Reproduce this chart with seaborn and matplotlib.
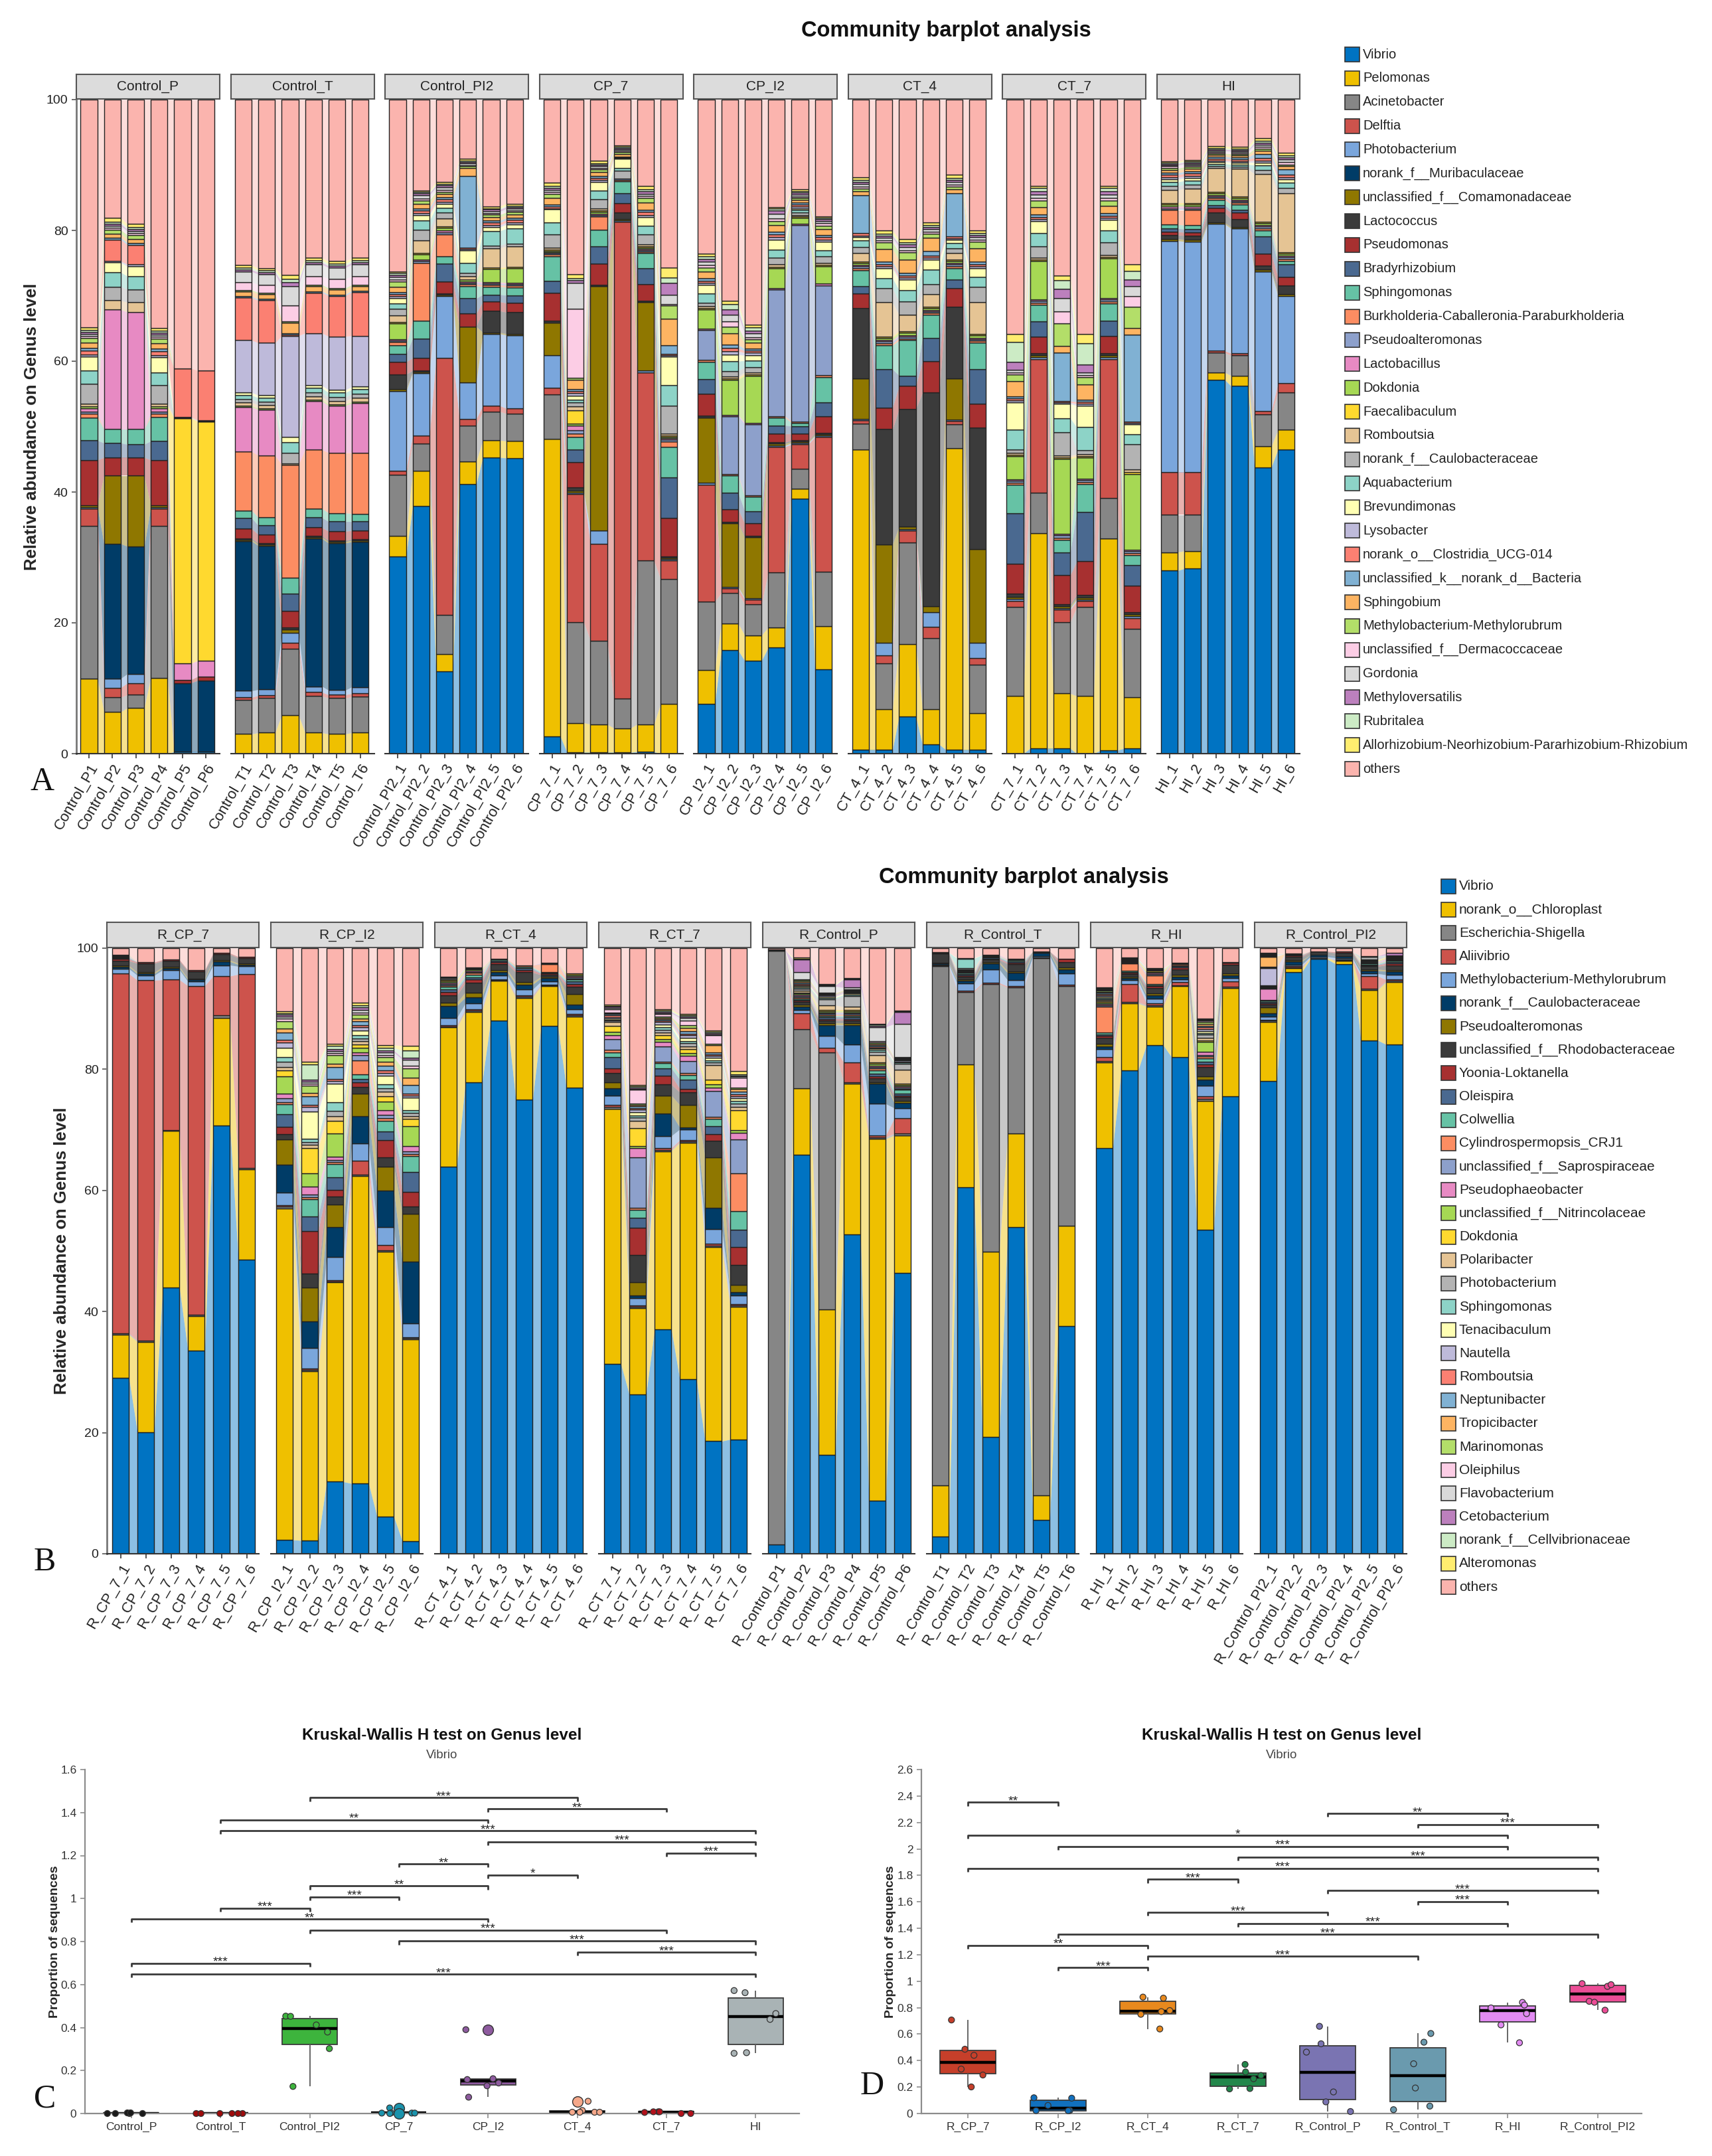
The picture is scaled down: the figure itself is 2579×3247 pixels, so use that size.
import numpy as np
import pandas as pd
import matplotlib
matplotlib.use("Agg")
import matplotlib.pyplot as plt
from matplotlib.patches import Rectangle
from matplotlib.transforms import offset_copy
import seaborn as sns

sns.set_theme(style="white")
plt.rcParams["font.family"] = ["Liberation Sans", "DejaVu Sans"]
np.random.seed(11)

W, H = 2579, 3247
DPI = 100

taxa_A = ["Vibrio", "Pelomonas", "Acinetobacter", "Delftia", "Photobacterium",
          "norank_f__Muribaculaceae", "unclassified_f__Comamonadaceae", "Lactococcus",
          "Pseudomonas", "Bradyrhizobium", "Sphingomonas",
          "Burkholderia-Caballeronia-Paraburkholderia", "Pseudoalteromonas", "Lactobacillus",
          "Dokdonia", "Faecalibaculum", "Romboutsia", "norank_f__Caulobacteraceae",
          "Aquabacterium", "Brevundimonas", "Lysobacter", "norank_o__Clostridia_UCG-014",
          "unclassified_k__norank_d__Bacteria", "Sphingobium", "Methylobacterium-Methylorubrum",
          "unclassified_f__Dermacoccaceae", "Gordonia", "Methyloversatilis", "Rubritalea",
          "Allorhizobium-Neorhizobium-Pararhizobium-Rhizobium", "others"]

taxa_B = ["Vibrio", "norank_o__Chloroplast", "Escherichia-Shigella", "Aliivibrio",
          "Methylobacterium-Methylorubrum", "norank_f__Caulobacteraceae", "Pseudoalteromonas",
          "unclassified_f__Rhodobacteraceae", "Yoonia-Loktanella", "Oleispira", "Colwellia",
          "Cylindrospermopsis_CRJ1", "unclassified_f__Saprospiraceae", "Pseudophaeobacter",
          "unclassified_f__Nitrincolaceae", "Dokdonia", "Polaribacter", "Photobacterium",
          "Sphingomonas", "Tenacibaculum", "Nautella", "Romboutsia", "Neptunibacter",
          "Tropicibacter", "Marinomonas", "Oleiphilus", "Flavobacterium", "Cetobacterium",
          "norank_f__Cellvibrionaceae", "Alteromonas", "others"]

groups_A = ["Control_P", "Control_T", "Control_PI2", "CP_7", "CP_I2", "CT_4", "CT_7", "HI"]
groups_B = ["R_CP_7", "R_CP_I2", "R_CT_4", "R_CT_7", "R_Control_P", "R_Control_T", "R_HI", "R_Control_PI2"]

labels_A = [
    ["Control_P1", "Control_P2", "Control_P3", "Control_P4", "Control_P5", "Control_P6"],
    ["Control_T1", "Control_T2", "Control_T3", "Control_T4", "Control_T5", "Control_T6"],
    ["Control_PI2_1", "Control_PI2_2", "Control_PI2_3", "Control_PI2_4", "Control_PI2_5", "Control_PI2_6"],
    ["CP_7_1", "CP_7_2", "CP_7_3", "CP_7_4", "CP_7_5", "CP_7_6"],
    ["CP_I2_1", "CP_I2_2", "CP_I2_3", "CP_I2_4", "CP_I2_5", "CP_I2_6"],
    ["CT_4_1", "CT_4_2", "CT_4_3", "CT_4_4", "CT_4_5", "CT_4_6"],
    ["CT_7_1", "CT_7_2", "CT_7_3", "CT_7_4", "CT_7_5", "CT_7_6"],
    ["HI_1", "HI_2", "HI_3", "HI_4", "HI_5", "HI_6"],
]
labels_B = [
    ["R_CP_7_1", "R_CP_7_2", "R_CP_7_3", "R_CP_7_4", "R_CP_7_5", "R_CP_7_6"],
    ["R_CP_I2_1", "R_CP_I2_2", "R_CP_I2_3", "R_CP_I2_4", "R_CP_I2_5", "R_CP_I2_6"],
    ["R_CT_4_1", "R_CT_4_2", "R_CT_4_3", "R_CT_4_4", "R_CT_4_5", "R_CT_4_6"],
    ["R_CT_7_1", "R_CT_7_2", "R_CT_7_3", "R_CT_7_4", "R_CT_7_5", "R_CT_7_6"],
    ["R_Control_P1", "R_Control_P2", "R_Control_P3", "R_Control_P4", "R_Control_P5", "R_Control_P6"],
    ["R_Control_T1", "R_Control_T2", "R_Control_T3", "R_Control_T4", "R_Control_T5", "R_Control_T6"],
    ["R_HI_1", "R_HI_2", "R_HI_3", "R_HI_4", "R_HI_5", "R_HI_6"],
    ["R_Control_PI2_1", "R_Control_PI2_2", "R_Control_PI2_3", "R_Control_PI2_4", "R_Control_PI2_5", "R_Control_PI2_6"],
]

# relative abundance (%), one row per sample, columns in legend order (others = rest)
A_Control_P = [
    [0, 11.5, 23.3, 2.7, 0.2, 0, 0.3, 0, 6.9, 3.0, 3.5, 0.6, 0.3, 0.5, 0.3, 0, 0.4, 3.0, 2.1, 2.1, 0.3, 0.6, 0.4, 0.8, 0.8, 0.3, 0.3, 0.3, 0.3, 0.4],
    [0, 6.4, 2.2, 1.5, 1.4, 20.6, 10.4, 0, 2.8, 2.2, 2.1, 0, 0, 18.3, 0, 0, 1.4, 2.1, 2.2, 1.5, 0.2, 3.3, 0.3, 0.6, 0.6, 0.3, 0.3, 0.3, 0.3, 0.6],
    [0, 7.0, 2.0, 1.8, 1.4, 19.5, 10.8, 0, 2.8, 2.0, 2.3, 0, 0, 17.9, 0, 0, 1.5, 2.0, 2.0, 1.5, 0.3, 3.0, 0.3, 0.6, 0.6, 0.3, 0.3, 0.3, 0.3, 0.5],
    [0, 11.6, 23.2, 2.7, 0.2, 0, 0.3, 0, 6.9, 2.9, 3.7, 0.5, 0.3, 0.5, 0.3, 0, 0.4, 2.8, 2.0, 2.3, 0.3, 0.6, 0.4, 0.8, 0.8, 0.3, 0.3, 0.3, 0.3, 0.4],
    [0.3, 0, 0, 0, 0, 10.5, 0, 0, 0.5, 0, 0, 0, 0, 2.5, 0, 37.5, 0.1, 0.1, 0, 0, 0, 7.4, 0, 0, 0, 0, 0, 0, 0, 0],
    [0.3, 0, 0, 0, 0, 10.9, 0, 0, 0.6, 0, 0, 0, 0, 2.4, 0, 36.6, 0.1, 0.1, 0, 0, 0, 7.6, 0, 0, 0, 0, 0, 0, 0, 0],
]
A_Control_T = [
    [0, 3.0, 5.2, 0.4, 1.0, 22.9, 0.2, 0.2, 1.5, 1.6, 1.2, 9.0, 0, 6.8, 0.2, 0, 0.5, 0.5, 0.6, 0.4, 8.0, 6.5, 0.2, 0.8, 0.2, 1.2, 1.6, 0.3, 0.3, 0.4],
    [0, 3.2, 5.3, 0.4, 0.9, 22.0, 0.2, 0.2, 1.3, 1.4, 1.2, 9.5, 0, 7.0, 0.2, 0, 0.5, 0.5, 0.6, 0.4, 8.0, 6.5, 0.2, 0.8, 0.2, 1.2, 1.6, 0.3, 0.3, 0.3],
    [0, 5.9, 10.1, 1.0, 1.5, 0, 0.5, 0.3, 2.5, 2.7, 2.4, 17.3, 0, 0, 0, 0, 0.2, 1.6, 1.6, 0.8, 15.5, 0.2, 0.2, 1.6, 0.2, 2.4, 3.0, 0.6, 0.5, 0.6],
    [0, 3.2, 5.6, 0.6, 0.9, 22.6, 0.2, 0.2, 1.3, 1.5, 1.4, 9.0, 0, 7.4, 0.2, 0, 0.5, 0.6, 0.7, 0.4, 8.0, 6.2, 0.2, 0.8, 0.2, 1.3, 1.8, 0.3, 0.3, 0.4],
    [0, 3.0, 5.5, 0.5, 0.7, 22.5, 0.2, 0.2, 1.4, 1.5, 1.3, 9.2, 0, 7.2, 0.2, 0, 0.5, 0.6, 0.7, 0.4, 8.2, 6.2, 0.2, 0.8, 0.2, 1.4, 1.7, 0.3, 0.3, 0.4],
    [0, 3.2, 5.5, 0.5, 1.0, 22.2, 0.2, 0.2, 1.3, 1.4, 1.2, 9.3, 0, 7.6, 0.2, 0, 0.6, 0.6, 0.7, 0.4, 7.8, 6.7, 0.2, 0.7, 0.2, 1.3, 1.8, 0.3, 0.3, 0.4],
]
A_Control_PI2 = [
    [30.2, 3.1, 9.3, 0.6, 12.2, 0, 0.3, 2.3, 1.9, 1.2, 1.3, 0.5, 0.2, 0.2, 2.5, 0.2, 1.0, 1.0, 0.8, 0.8, 0.3, 0.4, 0.3, 0.8, 0.8, 0.3, 0.4, 0.3, 0.3, 0.2],
    [37.9, 5.3, 4.2, 1.2, 9.6, 0, 0.2, 0.2, 1.9, 3.0, 2.7, 8.8, 0.3, 0.2, 0.8, 0.2, 2.0, 1.6, 1.4, 0.8, 0.3, 0.4, 0.4, 0.7, 0.5, 0.3, 0.5, 0.3, 0.2, 0.2],
    [12.6, 2.6, 6.0, 39.3, 9.5, 0, 0.2, 0.2, 1.8, 2.7, 1.1, 3.4, 0.3, 0.3, 0.4, 0.2, 1.2, 0.9, 0.8, 0.6, 0.3, 0.4, 0.3, 0.5, 0.3, 0.3, 0.4, 0.3, 0.2, 0.3],
    [41.2, 3.5, 5.5, 1.0, 5.6, 0, 8.5, 0, 2.0, 2.3, 1.9, 0.3, 0.2, 0.2, 0.3, 0, 0.5, 0.5, 1.5, 2.0, 0.2, 0.2, 10.9, 1.2, 0.3, 0.2, 0.3, 0.2, 0.2, 0.3],
    [45.3, 2.6, 4.4, 0.9, 11.0, 0, 0.2, 3.3, 1.4, 1.1, 1.2, 0.3, 0.2, 0.2, 2.0, 0.2, 3.0, 0.4, 2.2, 0.6, 0.3, 0.4, 0.3, 0.5, 0.4, 0.2, 0.3, 0.3, 0.2, 0.3],
    [45.2, 2.6, 4.2, 0.8, 11.2, 0, 0.2, 3.3, 1.4, 1.2, 1.2, 0.3, 0.2, 0.2, 2.2, 0.2, 3.2, 0.4, 2.3, 0.6, 0.3, 0.4, 0.3, 0.5, 0.4, 0.2, 0.3, 0.3, 0.2, 0.3],
]
A_CP_7 = [
    [2.6, 45.5, 6.8, 1.0, 5.0, 0, 5.0, 0.3, 4.3, 1.8, 3.7, 0.3, 0.2, 0.2, 0.2, 0.2, 0.3, 2.0, 1.8, 2.0, 0.2, 0.3, 0.3, 1.0, 0.6, 0.3, 0.3, 0.3, 0.3, 0.5],
    [0.2, 4.5, 15.4, 19.6, 0.2, 0, 0.3, 0.5, 3.9, 1.9, 1.9, 0.5, 0.5, 0.8, 0.3, 2.0, 0.6, 0.6, 0.4, 0.6, 0.4, 0.3, 0.3, 1.5, 0.3, 10.5, 4.0, 0.4, 0.3, 0.6],
    [0.2, 4.3, 12.8, 14.8, 2.0, 0, 37.4, 0.2, 3.2, 2.7, 2.5, 2.0, 0.2, 0.2, 0.3, 0.2, 0.3, 1.5, 1.3, 1.3, 0.3, 0.3, 0.3, 0.6, 0.4, 0.2, 0.3, 0.3, 0.2, 0.4],
    [0.2, 3.7, 4.5, 72.9, 0.2, 0, 0.2, 1.0, 1.5, 1.5, 1.8, 0.2, 0.2, 0, 0, 0, 0, 1.2, 0.4, 1.5, 0.1, 0.1, 0.1, 0.4, 0.3, 0.2, 0.2, 0.2, 0.2, 0.2],
    [0.3, 4.2, 25.0, 28.8, 0.3, 0, 10.4, 0.2, 2.6, 2.4, 2.3, 0.3, 0.2, 0.2, 0.2, 0.2, 0.3, 1.5, 1.3, 1.3, 0.3, 0.5, 0.3, 1.2, 0.7, 0.3, 0.3, 0.4, 0.3, 0.5],
    [0, 7.6, 19.1, 2.8, 0.2, 0, 0.2, 0.3, 5.8, 6.2, 4.7, 0.8, 0.3, 0.2, 0.2, 0.2, 0.3, 4.3, 3.1, 4.4, 0.2, 0.2, 1.3, 4.1, 2.0, 0.2, 1.5, 1.8, 0.8, 1.5],
]
A_CP_I2 = [
    [7.6, 5.2, 10.4, 17.9, 0.3, 0, 10.0, 0.3, 3.3, 2.3, 2.6, 0.3, 4.6, 0.2, 2.9, 0.2, 0.3, 0.5, 1.5, 1.3, 0.3, 0.3, 0.4, 1.0, 0.6, 0.4, 0.5, 0.4, 0.4, 0.4],
    [15.8, 4.1, 4.7, 0.7, 0.2, 0, 9.7, 0.2, 2.0, 2.5, 2.6, 0.2, 8.9, 0.2, 5.4, 0.2, 0.3, 0.8, 1.5, 1.0, 0.5, 0.5, 0.5, 1.8, 1.0, 0.8, 1.0, 0.8, 0.8, 0.5],
    [14.2, 3.9, 4.7, 0.8, 0.2, 0, 9.3, 0.2, 1.9, 1.9, 2.2, 0.2, 10.9, 0.2, 7.2, 0.2, 0.3, 0.8, 1.0, 0.8, 0.4, 0.3, 0.3, 0.9, 0.5, 0.4, 0.6, 0.4, 0.5, 0.4],
    [16.2, 3.1, 8.4, 19.2, 0.2, 0, 0.3, 0.2, 1.3, 1.3, 1.2, 0.2, 19.4, 0.2, 3.0, 0.2, 0.4, 1.0, 1.3, 1.5, 0.4, 0.4, 0.4, 1.0, 0.6, 0.4, 0.7, 0.5, 0.3, 0.3],
    [39.0, 1.5, 3.1, 3.7, 0.2, 0, 0.2, 0.2, 1.0, 1.2, 0.5, 0.2, 30.0, 0.2, 0.9, 0.2, 0.2, 0.4, 0.4, 0.3, 0.3, 0.3, 0.3, 0.4, 0.3, 0.2, 0.3, 0.3, 0.2, 0.3],
    [12.9, 6.6, 8.3, 20.6, 0.2, 0, 0.2, 0.2, 2.6, 2.1, 3.9, 0.3, 13.7, 0.3, 2.6, 0.2, 0.3, 1.0, 1.0, 1.3, 0.3, 0.4, 0.3, 0.9, 0.5, 0.4, 0.3, 0.3, 0.2, 0.2],
]
A_CT_4 = [
    [0.6, 45.9, 4.0, 0.5, 0.2, 0, 6.2, 10.7, 2.3, 1.1, 2.4, 0.3, 0.3, 0.2, 0.3, 0.2, 1.3, 1.0, 1.0, 0.5, 0.2, 0.4, 5.8, 0.6, 0.4, 0.3, 0.4, 0.3, 0.3, 0.4],
    [0.6, 6.2, 7.0, 1.2, 2.0, 0, 15.0, 17.6, 3.3, 5.9, 3.6, 0.3, 0.3, 0.2, 0.4, 0.2, 5.2, 2.2, 1.5, 1.5, 0.3, 0.3, 0.4, 2.0, 1.0, 0.3, 0.4, 0.3, 0.3, 0.5],
    [5.7, 11.1, 15.5, 1.8, 0.2, 0, 0.4, 18.0, 3.5, 1.6, 5.4, 0.3, 0.3, 0.2, 0.4, 0.2, 2.5, 2.0, 1.8, 1.6, 0.3, 0.3, 0.4, 2.0, 1.2, 0.3, 0.5, 0.4, 0.3, 0.5],
    [1.4, 5.4, 10.9, 1.7, 2.2, 0, 0.9, 32.7, 4.8, 3.6, 3.5, 0.3, 0.2, 0.2, 0.3, 0.2, 2.0, 1.5, 2.2, 1.5, 0.3, 0.3, 0.8, 2.0, 0.6, 0.3, 0.4, 0.3, 0.3, 0.4],
    [0.6, 46.1, 3.7, 0.5, 0.2, 0, 6.3, 10.9, 2.9, 1.3, 1.7, 0.3, 0.3, 0.2, 0.3, 0.2, 1.0, 0.8, 0.8, 0.5, 0.2, 0.3, 6.6, 0.6, 0.4, 0.3, 0.4, 0.3, 0.3, 0.5],
    [0.6, 5.6, 7.4, 1.0, 2.4, 0, 14.3, 18.5, 3.7, 5.3, 4.0, 0.3, 0.3, 0.2, 0.4, 0.2, 4.8, 2.4, 1.5, 1.3, 0.3, 0.3, 0.4, 2.1, 1.0, 0.3, 0.4, 0.3, 0.3, 0.4],
]
A_CT_7 = [
    [0, 8.8, 13.6, 1.0, 0.3, 0, 0.3, 0.5, 4.5, 7.8, 4.3, 0.3, 0.3, 0.2, 3.6, 0.2, 0.3, 0.5, 3.0, 4.2, 0.3, 0.3, 0.3, 2.4, 1.0, 0.3, 0.4, 1.2, 3.0, 1.3],
    [0.8, 32.9, 6.2, 20.4, 0.3, 0, 0.3, 0.3, 2.6, 2.3, 2.5, 0.3, 0.3, 0.2, 5.9, 0.2, 0.3, 1.8, 2.0, 1.8, 0.3, 0.3, 0.4, 1.2, 1.0, 0.4, 0.5, 0.5, 0.5, 0.3],
    [0.8, 8.4, 10.9, 1.9, 0.2, 0, 0.3, 0.3, 4.5, 3.5, 1.9, 0.3, 0.4, 0.2, 11.5, 0.2, 0.3, 3.5, 2.2, 2.2, 0.2, 0.2, 7.4, 1.0, 3.5, 1.8, 2.0, 1.5, 1.3, 0.7],
    [0, 8.8, 13.6, 0.9, 0.3, 0, 0.3, 0.4, 5.1, 7.6, 4.2, 0.3, 0.3, 0.2, 3.3, 0.2, 0.3, 0.6, 3.5, 3.3, 0.3, 0.3, 0.3, 2.3, 1.2, 0.3, 0.4, 1.2, 3.2, 1.5],
    [0.5, 32.4, 6.2, 21.2, 0.3, 0, 0.3, 0.3, 2.7, 2.3, 2.6, 0.3, 0.3, 0.2, 6.1, 0.2, 0.3, 2.0, 1.8, 1.6, 0.3, 0.3, 0.4, 1.2, 0.8, 0.4, 0.5, 0.5, 0.5, 0.3],
    [0.8, 7.8, 10.5, 1.6, 0.3, 0, 0.3, 0.3, 4.1, 3.1, 1.6, 0.3, 0.3, 0.2, 11.5, 0.3, 0.5, 3.8, 1.5, 1.6, 0.2, 0.2, 13.3, 1.0, 3.2, 1.6, 1.6, 1.0, 1.3, 1.0],
]
A_HI = [
    [28.0, 2.8, 5.7, 6.5, 35.4, 0, 0.3, 0.6, 0.5, 0.5, 0.6, 2.2, 0.3, 0.3, 0.3, 0.2, 2.0, 0.6, 0.6, 0.4, 0.3, 0.4, 0.3, 0.4, 0.3, 0.3, 0.2, 0.2, 0.2, 0.2],
    [28.3, 2.7, 5.5, 6.5, 35.3, 0, 0.3, 0.6, 0.5, 0.5, 0.6, 2.3, 0.3, 0.3, 0.3, 0.2, 2.2, 0.6, 0.6, 0.4, 0.3, 0.4, 0.3, 0.4, 0.3, 0.3, 0.2, 0.2, 0.2, 0.2],
    [57.2, 1.1, 3.0, 0.3, 19.4, 0, 0.2, 1.5, 0.8, 0.4, 0.8, 0.3, 0.2, 0.2, 0.3, 0.2, 3.6, 0.3, 0.4, 0.3, 0.2, 0.3, 0.3, 0.3, 0.2, 0.2, 0.2, 0.2, 0.2, 0.3],
    [56.2, 1.6, 3.1, 0.3, 19.1, 0, 0.2, 1.2, 1.0, 0.4, 0.9, 0.3, 0.2, 0.2, 0.3, 0.2, 4.2, 0.3, 0.4, 0.3, 0.2, 0.3, 0.3, 0.3, 0.2, 0.2, 0.2, 0.2, 0.2, 0.3],
    [43.8, 3.2, 4.9, 0.5, 21.3, 0, 0.3, 0.6, 1.8, 2.7, 0.9, 0.3, 0.3, 0.2, 0.3, 0.2, 7.3, 0.6, 0.8, 0.4, 0.3, 0.4, 0.6, 0.5, 0.3, 0.3, 0.3, 0.3, 0.3, 0.4],
    [46.5, 3.0, 5.7, 1.4, 13.4, 0, 0.3, 1.3, 1.3, 1.9, 0.5, 0.3, 0.3, 0.2, 0.3, 0.2, 9.1, 0.8, 0.8, 0.5, 0.3, 0.4, 0.8, 0.5, 0.3, 0.4, 0.4, 0.3, 0.3, 0.4],
]

# panel B rows list the leading taxa; taxa not listed are absent
B_R_CP_7 = [
    [29.1, 7.1, 0.2, 59.4, 0.8, 0.3, 0.2, 0.8, 0.3, 0.2, 0.1, 0.1, 0.1, 0.1, 0.1],
    [20.1, 14.9, 0.2, 59.5, 0.8, 0.3, 0.2, 1.5, 0.2],
    [44.0, 25.8, 0.2, 24.8, 1.6, 0.3, 0.2, 1.0, 0.2],
    [33.6, 5.7, 0.2, 54.3, 0.7, 0.3, 0.2, 1.2, 0.2],
    [70.7, 17.8, 0.4, 6.5, 1.8, 0.6, 0.2, 1.0, 0.2],
    [48.6, 14.9, 0.2, 32.0, 1.3, 0.3, 0.2, 0.9, 0.2],
]
B_R_CP_I2 = [
    [2.3, 54.7, 0.3, 0.3, 2.1, 4.5, 4.2, 0.9, 1.2, 2.1, 1.6, 0.4, 0.6, 0.8, 2.8, 1.0, 0.6, 0.8, 0.8, 1.6, 0.8, 0.5, 1.2, 0.6, 1.2, 0.5, 0.3, 0.3, 0.3, 0.3],
    [2.2, 28.0, 0.2, 0.2, 3.4, 4.4, 5.6, 2.3, 7.0, 2.4, 2.9, 0.3, 0.4, 1.3, 2.2, 4.2, 0.5, 0.5, 0.5, 4.5, 0.8, 0.3, 1.5, 0.5, 1.2, 0.3, 0.4, 0.3, 2.5, 0.4],
    [11.9, 32.9, 0.2, 0.2, 3.8, 5.0, 3.7, 1.3, 1.1, 2.1, 2.2, 0.3, 0.3, 0.6, 3.8, 2.1, 0.8, 0.8, 1.5, 3.0, 0.5, 0.3, 2.0, 0.5, 1.5, 0.3, 0.3, 0.3, 0.6, 0.3],
    [11.6, 50.8, 0.2, 2.3, 2.9, 4.5, 3.7, 1.1, 0.8, 0.5, 0.8, 2.3, 0.8, 0.5, 0.8, 0.5, 0.5, 0.5, 0.5, 0.8, 0.5, 0.4, 0.6, 0.5, 0.6, 0.4, 0.4, 0.4, 0.4, 0.4],
    [6.1, 43.8, 0.2, 0.9, 3.0, 6.0, 3.9, 1.6, 2.8, 1.4, 1.8, 0.4, 0.6, 0.8, 1.4, 0.8, 0.8, 0.6, 0.6, 1.4, 0.5, 0.4, 0.8, 0.6, 0.8, 0.4, 0.4, 0.3, 0.5, 0.4],
    [2.1, 33.3, 0.2, 0.2, 2.2, 10.2, 7.9, 1.2, 2.5, 3.3, 2.6, 0.3, 0.4, 0.9, 3.3, 1.2, 0.5, 0.5, 0.5, 2.0, 0.4, 0.3, 1.4, 1.2, 1.6, 0.4, 1.0, 0.3, 1.2, 0.8],
]
B_R_CT_4 = [
    [63.9, 23.0, 0.2, 0.2, 1.2, 2.0, 0.5, 1.2, 0.6, 0.4, 0.4, 0.3, 0.2, 0.2, 0.2, 0.2, 0.2, 0.2, 0.1, 0.1],
    [77.8, 11.7, 0.2, 0.2, 1.0, 1.0, 0.8, 1.6, 0.5, 0.4, 0.4, 0.3, 0.2, 0.2, 0.2, 0.1, 0.1, 0.1],
    [88.0, 6.6, 0.1, 0.1, 0.7, 0.6, 0.3, 1.0, 0.3, 0.2, 0.2, 0.1],
    [75.0, 16.8, 0.2, 0.2, 1.0, 0.8, 0.4, 1.6, 0.4, 0.3, 0.2, 0.3],
    [87.2, 6.6, 0.1, 0.1, 0.5, 0.6, 0.2, 0.3, 0.2, 0.1, 0.2, 1.3, 0.1, 0.1],
    [77.0, 11.7, 0.2, 0.2, 0.8, 0.8, 1.7, 1.2, 0.5, 0.4, 0.3, 0.2, 0.2, 0.2, 0.2, 0.2],
]
B_R_CT_7 = [
    [31.4, 42.1, 0.3, 0.3, 1.6, 1.2, 0.9, 1.6, 0.8, 1.8, 0.8, 0.4, 1.8, 0.6, 0.6, 1.0, 0.6, 0.2, 0.2, 0.2, 0.2, 0.3, 0.2, 0.2, 0.1, 0.5, 0.2, 0.2, 0.2, 0.2],
    [26.3, 14.3, 0.2, 0.2, 1.2, 0.4, 2.3, 4.4, 4.5, 1.7, 1.3, 0.3, 8.4, 1.5, 0.3, 3.0, 1.2, 0.5, 0.4, 0.5, 0.5, 0.2, 0.3, 0.2, 0.2, 2.3, 0.2, 0.2, 0.2, 0.2],
    [37.1, 29.4, 0.2, 0.3, 2.0, 3.7, 3.0, 1.8, 1.5, 1.2, 0.8, 0.3, 2.5, 0.7, 0.5, 0.6, 0.5, 0.4, 0.4, 0.5, 0.4, 0.2, 0.3, 0.2, 0.2, 0.4, 0.2, 0.2, 0.2, 0.2],
    [28.8, 39.1, 0.2, 0.2, 1.8, 0.3, 3.7, 2.1, 0.6, 1.5, 0.8, 0.3, 2.0, 0.8, 0.5, 0.6, 0.5, 0.5, 0.4, 0.5, 0.4, 0.3, 0.4, 0.5, 0.5, 0.8, 0.4, 0.2, 0.2, 0.2],
    [18.6, 32.1, 0.2, 0.3, 2.4, 3.5, 8.4, 2.7, 1.1, 1.3, 1.2, 0.3, 4.3, 0.6, 0.5, 0.8, 2.4, 0.4, 0.4, 0.4, 0.3, 0.3, 0.3, 1.2, 0.2, 1.4, 0.2, 0.2, 0.2, 0.2],
    [18.9, 21.9, 0.2, 0.2, 1.5, 0.5, 1.2, 3.3, 3.0, 2.8, 3.1, 6.2, 5.6, 1.1, 0.5, 3.2, 0.6, 0.5, 0.5, 0.4, 0.4, 0.3, 0.4, 0.4, 0.3, 1.6, 0.2, 0.2, 0.2, 0.5],
]
B_R_Control_P = [
    [1.5, 0, 98.1, 0, 0.1, 0.1],
    [65.9, 11.0, 9.7, 2.7, 0.5, 0.6, 0.3, 0.4, 0.2, 0.2, 0.2, 0.2, 0.2, 0.2, 0.2, 0.2, 0.3, 0.3, 0.2, 0.2, 0.2, 0.2, 0.2, 0.2, 0.2, 0.2, 1.2, 2.0, 0.2, 0.2],
    [16.3, 24.0, 42.5, 0.7, 2.0, 1.8, 0.3, 0.5, 0.2, 0.3, 0.2, 0.2, 0.2, 0.2, 0.2, 0.2, 0.8, 1.0, 0.2, 0.2, 0.2, 0.1, 0.1, 0.1, 0.1, 0.1, 1.0, 0.2, 0.1, 0.1],
    [52.7, 24.9, 0.3, 3.2, 3.0, 3.2, 0.3, 0.5, 0.2, 0.3, 0.2, 0.2, 0.2, 0.2, 0.2, 0.2, 0.5, 1.8, 0.2, 0.2, 0.2, 0.1, 0.1, 0.1, 0.1, 0.1, 0.3, 1.4, 0.1, 0.1],
    [8.8, 59.7, 0.3, 0.3, 5.2, 3.3, 0.3, 0.6, 0.3, 0.5, 0.5, 0.3, 0.3, 0.2, 0.3, 0.2, 1.3, 0.5, 0.3, 0.2, 0.2, 0.2, 0.2, 0.2, 0.2, 0.2, 2.4, 0.2, 0.2, 0.1],
    [46.4, 22.7, 0.3, 2.5, 1.7, 0.8, 0.4, 0.6, 0.3, 0.3, 0.6, 0.2, 0.2, 0.2, 0.2, 0.2, 2.3, 1.0, 0.2, 0.2, 0.2, 0.1, 0.1, 0.1, 0.1, 0.1, 5.5, 2.0, 0.1, 0.1],
]
B_R_Control_T = [
    [2.9, 8.4, 85.7, 0.1, 0.2, 0.2, 0.1, 1.5, 0.1, 0.1],
    [60.5, 20.3, 12.0, 0.2, 1.2, 0.4, 0.2, 0.5, 0.2, 0.2, 0.2, 0.1, 0.1, 0.1, 0.1, 0.1, 0.1, 0.2, 1.6, 0.1],
    [19.3, 30.6, 44.2, 0.2, 2.2, 1.0, 0.2, 0.4, 0.2, 0.2, 0.1, 0.1, 0.1, 0.1],
    [53.9, 15.5, 24.1, 0.2, 1.0, 1.2, 0.3, 1.2, 0.2, 0.2, 0.2, 0.1, 0.1],
    [5.6, 4.1, 88.7, 0.1, 0.2, 0.5, 0.1, 0.2],
    [37.6, 16.6, 39.6, 0.2, 1.8, 0.7, 0.3, 0.9, 0.5, 0.1],
]
B_R_HI = [
    [67.0, 14.1, 0.3, 0.6, 1.3, 0.5, 0.4, 1.0, 0.3, 0.3, 0.3, 4.3, 0.2, 0.2, 0.2, 0.2, 0.2, 0.2, 0.2, 0.2, 0.2, 0.2, 0.2, 0.2, 0.2, 0.1, 0.1, 0.1, 0.1, 0.1],
    [79.8, 11.1, 0.2, 3.0, 0.6, 0.4, 0.2, 0.4, 0.2, 0.2, 0.2, 1.2, 0.1, 0.1, 0.1, 0.1, 0.1, 0.1, 0.1, 0.1, 0.1, 0.1],
    [84.0, 6.4, 0.2, 0.3, 0.8, 0.5, 0.3, 0.9, 0.3, 0.2, 0.2, 1.4, 0.2, 0.2, 0.2, 0.2, 0.1, 0.1, 0.1, 0.1],
    [82.0, 11.7, 0.2, 0.5, 0.4, 0.5, 0.3, 0.9, 0.3, 0.2, 0.2, 0.2, 0.1, 0.1],
    [53.5, 21.3, 0.3, 0.4, 1.8, 1.0, 0.5, 1.6, 0.4, 0.5, 0.5, 0.3, 0.3, 0.5, 1.6, 0.3, 0.4, 0.5, 0.3, 0.3, 0.3, 0.3, 0.3, 0.3, 0.3, 0.2, 0.1, 0.1, 0.1, 0.1],
    [75.5, 17.9, 0.2, 0.9, 0.6, 0.4, 0.3, 1.5, 0.3, 0.1],
]
B_R_Control_PI2 = [
    [78.1, 9.7, 0.2, 0.2, 0.5, 0.5, 1.0, 0.5, 0.2, 0.2, 0.2, 0.1, 0.1, 1.8, 0.1, 0.1, 0.1, 0.1, 0.1, 0.1, 2.8, 0.1, 0.1, 1.7, 0.1, 0.1, 0.1, 0.1, 0.1, 0.1],
    [96.1, 0.6, 0.1, 0.2, 0.3, 0.5, 0.2, 0.6, 0.2, 0.1, 0.1, 0.1],
    [98.2, 0.2, 0, 0, 0.2, 0.3, 0, 0.5, 0.1],
    [97.4, 0.5, 0.1, 0.1, 0.3, 0.3, 0, 0.5, 0.2],
    [84.8, 8.3, 0.2, 2.1, 0.4, 0.5, 0.2, 0.5, 0.2, 0.1, 0.2, 0.1, 0.1, 0.1, 0.1, 0.1, 0.1, 0.5, 0.1],
    [84.1, 10.3, 0.2, 0.2, 0.8, 0.6, 0.2, 0.8, 0.3, 0.2, 0.2, 0.1, 0.1, 0.2, 0.1, 0.1, 0.1, 0.1, 0.1, 0, 0, 0, 0, 0, 0, 0, 0, 0.4],
]

tables_A = [A_Control_P, A_Control_T, A_Control_PI2, A_CP_7, A_CP_I2, A_CT_4, A_CT_7, A_HI]
tables_B = [B_R_CP_7, B_R_CP_I2, B_R_CT_4, B_R_CT_7, B_R_Control_P, B_R_Control_T, B_R_HI, B_R_Control_PI2]

# Kruskal-Wallis significance (group i, group j, label), bottom bracket first
sig_C = [(0, 7, "***"), (0, 2, "***"), (5, 7, "***"), (3, 7, "***"), (2, 6, "***"), (0, 4, "**"),
         (1, 2, "***"), (2, 3, "***"), (2, 4, "**"), (4, 5, "*"), (3, 4, "**"), (6, 7, "***"),
         (4, 7, "***"), (1, 7, "***"), (1, 4, "**"), (4, 6, "**"), (2, 5, "***")]
sig_D = [(1, 2, "***"), (2, 5, "***"), (0, 2, "**"), (1, 7, "***"), (3, 6, "***"), (2, 4, "***"),
         (5, 6, "***"), (4, 7, "***"), (2, 3, "***"), (0, 7, "***"), (3, 7, "***"), (1, 6, "***"),
         (0, 6, "*"), (5, 7, "***"), (4, 6, "**"), (0, 1, "**")]

colors = (["#0073C2", "#EFC000", "#868686", "#CD534C", "#7AA6DC",
           "#003C67", "#8F7700", "#3B3B3B", "#A73030", "#4A6990"]
          + sns.color_palette("Set2", 8).as_hex()
          + sns.color_palette("Set3", 12).as_hex()
          + ["#FBB4AE"])

box_pal_C = ["#1A1A1A", "#8B0000", "#3DB43D", "#1B93AC", "#8E5B9F", "#6B4226", "#A50F15", "#A9B3B5"]
pt_pal_C = ["#1A1A1A", "#9E0B0B", "#3DB43D", "#1B93AC", "#8E5B9F", "#F5A88A", "#B3121C", "#A9B3B5"]
pal_D = ["#C63F2A", "#1170BE", "#E8891E", "#23874B", "#7A74B2", "#6A9AAE", "#E28BF2", "#EC4D96"]

WHIS = 2.0

fig = plt.figure(figsize=(W / DPI, H / DPI), dpi=DPI)


def px(left, top, w, h):
    return [left / W, 1 - (top + h) / H, w / W, h / H]


def stacked_facet(ax, table, ticks, width, xlim):
    vals = np.array([row + [0] * (30 - len(row)) for row in table], dtype=float)
    vals = np.column_stack([vals, 100 - vals.sum(axis=1)])
    tops = vals.cumsum(axis=1)
    bots = tops - vals
    x = np.arange(len(ticks))
    for j in range(vals.shape[1]):
        c = colors[j]
        for i in range(len(x) - 1):
            if vals[i, j] > 0 or vals[i + 1, j] > 0:
                ax.fill_between([x[i] + width / 2, x[i + 1] - width / 2],
                                [bots[i, j], bots[i + 1, j]], [tops[i, j], tops[i + 1, j]],
                                color=c, alpha=0.45, lw=0, zorder=1)
        m = vals[:, j] > 0
        ax.bar(x[m], vals[m, j], bottom=bots[m, j], width=width, color=c,
               edgecolor="#222222", linewidth=1.0, zorder=2)
    ax.set_xlim(*xlim)
    ax.set_ylim(0, 100)
    ax.set_xticks(x)
    ax.set_xticklabels(ticks, rotation=60, ha="right", va="top", rotation_mode="anchor",
                       fontsize=16, color="#222222")


def bar_panel(tables, groups, labels, x0, fw, gap, top, bottom, strip_h, width, xlim, ylab_x):
    for k, (tab, grp, labs) in enumerate(zip(tables, groups, labels)):
        left = x0 + k * (fw + gap)
        ax = fig.add_axes(px(left, top, fw, bottom - top))
        stacked_facet(ax, tab, labs, width, xlim)
        for s in ["top", "right"]:
            ax.spines[s].set_visible(False)
        ax.spines["bottom"].set_color("#333333")
        ax.spines["bottom"].set_linewidth(1.5)
        ax.tick_params(axis="x", bottom=True, length=5, width=1.2, color="#333333", pad=3)
        if k == 0:
            ax.spines["left"].set_color("#777777")
            ax.spines["left"].set_linewidth(2.0)
            ax.set_yticks([0, 20, 40, 60, 80, 100])
            ax.tick_params(axis="y", left=True, length=5, width=1.2, color="#555555",
                           labelsize=14, labelcolor="#222222", pad=4)
            ax.set_ylabel("Relative abundance on Genus level", fontsize=18.5, fontweight="bold")
            ax.yaxis.set_label_coords((ylab_x + 15 - left) / fw, 0.5)
        else:
            ax.spines["left"].set_visible(False)
            ax.set_yticks([])
        sax = fig.add_axes(px(left, top - strip_h - 1, fw, strip_h))
        sax.set_facecolor("#DCDCDC")
        sax.set_xticks([])
        sax.set_yticks([])
        for s in sax.spines.values():
            s.set_visible(True)
            s.set_color("#555555")
            s.set_linewidth(1.5)
        sax.text(0.5, 0.5, grp, ha="center", va="center", fontsize=15, color="#222222",
                 transform=sax.transAxes)


def legend_block(names, x_sq, y_first, dy, sq, fs):
    for k, name in enumerate(names):
        yc = y_first + k * dy
        fig.add_artist(Rectangle((x_sq / W, 1 - (yc + sq / 2) / H), sq / W, sq / H,
                                 transform=fig.transFigure, facecolor=colors[k],
                                 edgecolor="#333333", linewidth=1.2))
        fig.text((x_sq + sq + 5) / W, 1 - yc / H, name, ha="left", va="center",
                 fontsize=fs, color="#222222")


def kw_panel(left, right, order, tables, box_pal, pt_pal, ymax, pairs, base, step, tick, ylab_x):
    top, bottom = 2665, 3183
    ax = fig.add_axes(px(left, top, right - left, bottom - top))
    df = pd.DataFrame({
        "group": [g for g, tab in zip(order, tables) for _ in tab],
        "value": [row[0] / 100 for tab in tables for row in tab],
    })
    sns.boxplot(data=df, x="group", y="value", order=order, hue="group", hue_order=order,
                palette=box_pal, width=0.62, saturation=1, whis=WHIS, showfliers=False,
                showcaps=False, linecolor="#3A3A3A", linewidth=1.3,
                medianprops=dict(color="black", linewidth=3.2),
                whiskerprops=dict(color="#666666", linewidth=1.4),
                legend=False, ax=ax)
    sns.stripplot(data=df, x="group", y="value", order=order, hue="group", hue_order=order,
                  palette=pt_pal, jitter=0.28, size=6.5, edgecolor="#333333", linewidth=0.9,
                  legend=False, ax=ax, zorder=4, clip_on=False)
    for i, g in enumerate(order):
        v = df.loc[df["group"] == g, "value"].to_numpy()
        q1, q3 = np.percentile(v, [25, 75])
        iqr = q3 - q1
        out = v[(v < q1 - WHIS * iqr) | (v > q3 + WHIS * iqr)]
        if len(out):
            ax.scatter(np.full(len(out), i), out, s=130, color=pt_pal[i], edgecolor="#333333",
                       linewidth=1.0, zorder=5, clip_on=False)
    txt_tr = offset_copy(ax.transData, fig=fig, y=-3, units="dots")
    for k, (i, j, lab) in enumerate(pairs):
        y = base + k * step
        ax.plot([i, i, j, j], [y - tick, y, y, y - tick], color="#3A3A3A", lw=2.0,
                solid_capstyle="butt", clip_on=False, zorder=3)
        ax.text((i + j) / 2, y, lab, ha="center", va="baseline", fontsize=14,
                color="#222222", transform=txt_tr)
    ax.set_xlim(-0.52, 7.49)
    ax.set_ylim(0, ymax)
    yt = np.round(np.arange(0, ymax + 1e-9, 0.2), 1)
    ax.set_yticks(yt)
    ax.set_yticklabels([f"{t:g}" for t in yt])
    for s in ["top", "right"]:
        ax.spines[s].set_visible(False)
    for s in ["left", "bottom"]:
        ax.spines[s].set_color("#8C8C8C")
        ax.spines[s].set_linewidth(1.6)
    ax.tick_params(axis="both", left=True, bottom=True, length=5, width=1.2, color="#8C8C8C",
                   labelsize=12.5, labelcolor="#333333", pad=4)
    ax.set_xlabel("")
    ax.set_ylabel("Proportion of sequences", fontsize=14, fontweight="bold")
    ax.yaxis.set_label_coords((ylab_x + 11 - left) / (right - left), 0.5)
    cx = (left + right) / 2
    fig.text(cx / W, 1 - 2614 / H, "Kruskal-Wallis H test on Genus level", ha="center",
             va="center", fontsize=17.5, fontweight="bold", color="#111111")
    fig.text(cx / W, 1 - 2644 / H, "Vibrio", ha="center", va="center", fontsize=13.5,
             color="#444444")


# panel A
bar_panel(tables_A, groups_A, labels_A, 115, 216, 16.5, 150, 1135, 37, 0.72, (-0.54, 5.59), 45)
legend_block(taxa_A, 2026, 82, 35.87, 22, 14.5)
fig.text(1425 / W, 1 - 46 / H, "Community barplot analysis", ha="center", va="center",
         fontsize=23.5, fontweight="bold", color="#111111")

# panel B
bar_panel(tables_B, groups_B, labels_B, 161, 229, 18, 1428, 2340, 38, 0.665, (-0.54, 5.48), 90)
legend_block(taxa_B, 2171, 1335, 35.17, 22, 15)
fig.text(1542 / W, 1 - 1321 / H, "Community barplot analysis", ha="center", va="center",
         fontsize=23.5, fontweight="bold", color="#111111")

# panels C and D
kw_panel(128, 1204, groups_A, tables_A, box_pal_C, pt_pal_C, 1.6, sig_C, 0.648, 0.0513, 0.016, 80)
kw_panel(1388, 2473, groups_B, tables_B, pal_D, pal_D, 2.6, sig_D, 1.104, 0.0832, 0.026, 1339)

for lab, (x, y) in zip("ABCD", [(64, 1178), (67, 2353), (68, 3161), (1314, 3142)]):
    fig.text(x / W, 1 - y / H, lab, ha="center", va="center", fontsize=36,
             family=["Liberation Serif", "DejaVu Serif"], color="#111111")

fig.savefig("out.png", dpi=DPI)
